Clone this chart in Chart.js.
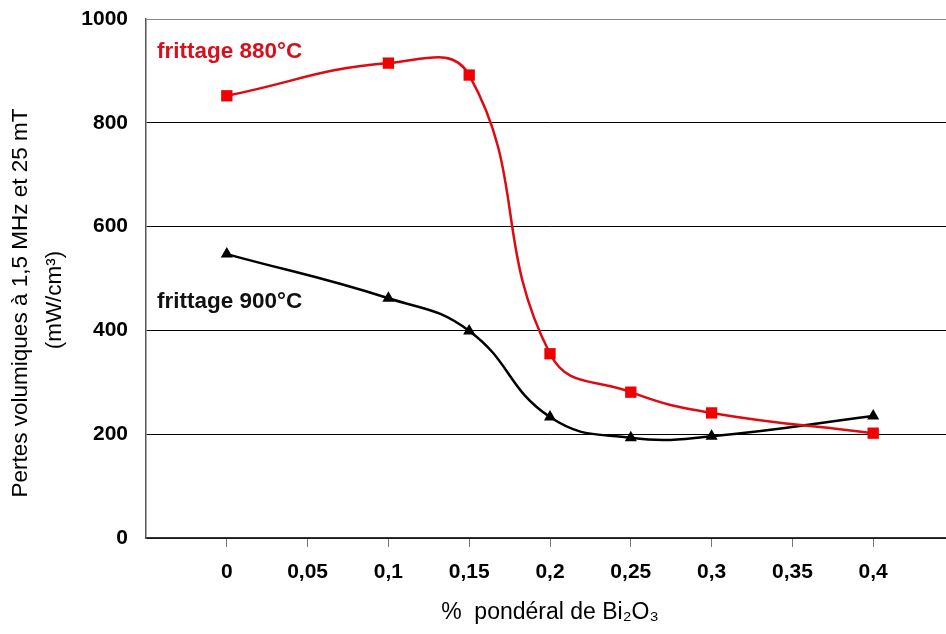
<!DOCTYPE html>
<html>
<head>
<meta charset="utf-8">
<script src="https://cdn.jsdelivr.net/npm/chart.js@4.4.1/dist/chart.umd.min.js"></script>
<style>
html, body { margin: 0; padding: 0; background: #fff; overflow: hidden; }
#wrap { width: 962px; height: 634px; }
</style>
</head>
<body>
<div id="wrap"><canvas id="lossChart"></canvas></div>
<script>
// % massique de Bi2O3
var bi2o3 = [0, 0.1, 0.15, 0.2, 0.25, 0.3, 0.4];
// pertes (mW/cm3)
var pertes880 = [852, 915, 892, 355, 281, 241, 202];
var pertes900 = [547, 462, 399, 233, 193, 196, 235];
var xTicks = [0, 0.05, 0.1, 0.15, 0.2, 0.25, 0.3, 0.35, 0.4];
var yTicks = [0, 200, 400, 600, 800, 1000];

function toPoints(ys) {
    return bi2o3.map(function(x, i) { return { x: x, y: ys[i] }; });
}

// series names inside the plot + rotated y title
var extraText = {
    id: 'extraText',
    afterDatasetsDraw: function(chart) {
        var c = chart.ctx, a = chart.chartArea;
        c.save();
        c.font = 'bold 22.5px "Liberation Sans", Arial, sans-serif';
        c.textBaseline = 'middle';
        c.textAlign = 'left';
        c.fillStyle = '#d8101c';
        c.fillText('frittage 880°C', a.left + 11, a.top + 33);
        c.fillStyle = '#111';
        c.fillText('frittage 900°C', a.left + 11, a.top + 283);

        c.font = '22.5px "Liberation Sans", Arial, sans-serif';
        c.fillStyle = '#000';
        c.textAlign = 'center';
        c.translate(21, 303);
        c.rotate(-Math.PI / 2);
        c.fillText('Pertes volumiques à 1,5 MHz et 25 mT', 0, 0);
        c.fillText('(mW/cm³)', 3, 34);
        c.restore();
    }
};

var ctx = document.getElementById('lossChart').getContext('2d');
var lossChart = new Chart(ctx, {
    type: 'line',
    data: {
        datasets: [{
            label: 'frittage 880°C',
            data: toPoints(pertes880),
            borderColor: '#dd0a14',
            backgroundColor: '#f00000',
            borderWidth: 2.5,
            tension: 0.45,
            pointStyle: 'rect',
            pointRadius: 8,
            pointBorderWidth: 0
        }, {
            label: 'frittage 900°C',
            data: toPoints(pertes900),
            borderColor: '#000',
            backgroundColor: '#000',
            borderWidth: 2.5,
            tension: 0.45,
            pointStyle: 'triangle',
            pointRadius: 7,
            pointBorderWidth: 0
        }]
    },
    options: {
        responsive: true,
        maintainAspectRatio: false,
        animation: false,
        layout: {
            padding: { left: 0, top: 19, right: 4, bottom: 0 }
        },
        scales: {
            x: {
                type: 'linear',
                min: -0.05,
                max: 0.45,
                afterBuildTicks: function(scale) {
                    scale.ticks = xTicks.map(function(v) { return { value: v }; });
                },
                afterFit: function(scale) { scale.height = 96; },
                grid: {
                    drawOnChartArea: false,
                    drawTicks: true,
                    tickLength: 9,
                    tickColor: '#777'
                },
                border: { color: '#333', width: 1.5 },
                ticks: {
                    padding: 13,
                    color: '#000',
                    font: { family: '"Liberation Sans", Arial, sans-serif', size: 21, weight: 'bold' },
                    callback: function(v) { return String(v).replace('.', ','); }
                },
                title: {
                    display: true,
                    text: '%  pondéral de Bi₂O₃',
                    color: '#000',
                    padding: { top: 0, bottom: 8 },
                    font: { family: '"Liberation Sans", Arial, sans-serif', size: 23 }
                }
            },
            y: {
                min: 0,
                max: 1000,
                afterBuildTicks: function(scale) {
                    scale.ticks = yTicks.map(function(v) { return { value: v }; });
                },
                afterFit: function(scale) {
                    scale.width = 146;
                    scale.paddingTop = 0;
                    scale.paddingBottom = 0;
                },
                grid: {
                    drawTicks: false,
                    color: function(c) { return c.tick && c.tick.value === 1000 ? '#888' : '#000'; },
                    lineWidth: 1
                },
                border: { color: '#555', width: 1.5 },
                ticks: {
                    padding: 18,
                    color: '#000',
                    font: { family: '"Liberation Sans", Arial, sans-serif', size: 21, weight: 'bold' },
                    callback: function(v) { return String(v); }
                }
            }
        },
        plugins: {
            legend: { display: false },
            tooltip: { enabled: false }
        }
    },
    plugins: [extraText]
});
</script>
</body>
</html>
